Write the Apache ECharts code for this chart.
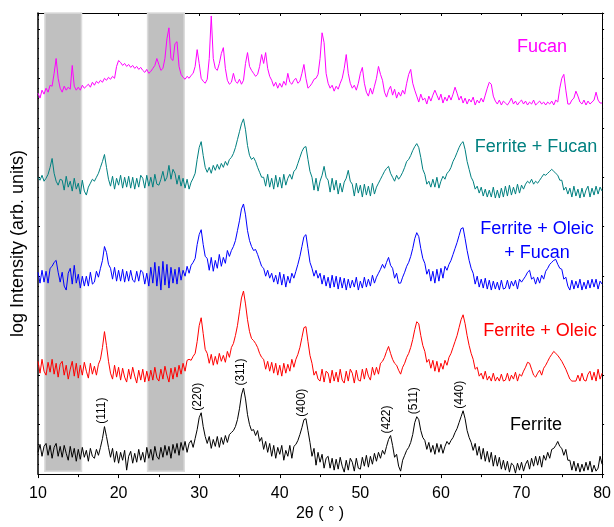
<!DOCTYPE html>
<html><head><meta charset="utf-8">
<script src="https://cdn.jsdelivr.net/npm/echarts@6/dist/echarts.min.js"></script>
<style>html,body{margin:0;padding:0;background:#fff}#c{width:614px;height:527px}</style>
</head><body><div id="c"></div>
<script>
// sampling grid: 2θ from 10 to 80 in 0.25° steps
const xStart = 10, xStep = 0.25;
const xTicks = [10, 20, 30, 40, 50, 60, 70, 80];
const bandStart = [10.85, 23.6];
const bandEnd = [15.4, 28.15];
const seriesNames = ['Fucan', 'Ferrite + Fucan', 'Ferrite + Oleic + Fucan', 'Ferrite + Oleic', 'Ferrite'];
const peakX = [18.25, 30.25, 35.5, 43.1, 53.7, 57.0, 62.75];
const peakLabels = ['(111)', '(220)', '(311)', '(400)', '(422)', '(511)', '(440)'];

// values are displayed (offset) log intensity, arbitrary units
const fucan = [
385,380,388,384, 390,386,393,392, 405,420,400,390, 386,392,388,391, 389,413,392,388,
391,388,393,390, 392,394,391,396, 393,397,395,398, 396,400,398,401, 399,402,400,412,
418,416,413,415, 412,414,411,413, 410,412,409,411, 408,406,409,405, 407,410,413,420,
414,408,410,420, 440,451,420,418, 435,437,412,404, 401,399,402,400, 403,405,412,429,
415,400,397,395, 399,420,463,420, 410,408,415,425, 431,410,398,394, 396,405,397,395,
399,394,398,415, 426,412,408,405, 402,404,412,424, 415,426,410,402, 398,392,396,390,
395,391,397,393, 405,396,394,398, 400,395,397,405, 414,400,390,392, 395,399,400,404,
420,446,436,405, 395,390,393,387, 392,389,395,400, 410,424,405,395, 390,393,388,395,
405,411,395,386, 382,390,384,392, 400,412,404,398, 386,381,388,392, 383,389,380,386,
382,388,384,395, 404,409,395,388, 382,376,384,378, 380,374,382,377, 383,388,383,378,
384,375,381,377, 383,378,384,391, 385,378,382,375, 380,374,379,376, 381,373,378,375,
380,376,383,390, 396,394,382,377, 374,378,373,377, 375,373,376,380, 374,377,373,376,
378,374,377,373, 376,374,378,373, 375,377,374,376, 373,376,374,377, 373,378,376,390,
400,404,388,374, 374,378,380,387, 382,376,374,378, 373,377,374,376, 378,386,378,375,
375];
const ferriteFucan = [
300,297,302,296, 299,303,310,319, 304,296,292,298, 297,287,301,290, 296,286,299,288,
294,283,297,286, 282,290,294,298, 296,300,304,310, 316,323,310,298, 291,301,288,299,
292,302,289,300, 290,301,289,300, 288,299,290,302, 299,289,302,291, 300,290,303,293,
292,298,306,296, 300,312,298,308, 304,293,302,291, 299,289,298,288, 295,299,304,318,
330,336,322,310, 305,310,304,312, 307,313,308,314, 310,316,312,318, 320,324,330,338,
346,354,359,348, 332,322,318,320, 316,310,305,300, 300,291,303,290, 299,288,302,290,
300,289,303,292, 299,303,298,306, 308,314,320,326, 330,331,318,306, 300,287,299,286,
296,302,311,300, 297,285,299,287, 297,283,294,285, 295,299,307,296, 293,281,294,284,
292,280,293,282, 291,281,294,283, 290,294,298,302, 306,309,311,304, 300,296,302,298,
301,305,310,316, 318,322,327,331, 334,330,320,308, 303,293,296,290, 298,290,300,289,
296,301,298,304, 306,310,316,320, 325,330,334,336, 328,316,308,300, 296,288,291,284,
290,281,288,280, 287,280,290,279, 287,279,289,280, 291,281,292,282, 290,283,293,284,
292,288,293,296, 294,298,293,296, 294,297,300,303, 302,304,306,308, 306,304,302,297,
297,287,290,283, 289,280,291,281, 288,279,289,280, 287,291,280,289, 282,291,283,290,
286];
const ferriteOleicFucan = [
204,193,206,194, 205,193,208,210, 214,216,204,194, 204,190,186,203, 208,192,211,193,
202,188,200,190, 200,190,204,192, 194,205,199,208, 216,230,224,212, 208,197,209,195,
206,195,207,194, 205,195,206,196, 194,205,195,206, 204,192,203,190, 209,193,214,190,
210,186,215,191, 212,188,209,193, 207,192,209,196, 206,200,210,203, 211,214,218,232,
242,247,232,220, 218,206,219,205, 216,208,222,210, 219,213,226,220, 226,230,236,246,
256,268,273,262, 246,236,230,226, 227,222,216,210, 208,200,206,198, 203,194,201,192,
204,191,202,189, 200,193,203,198, 205,212,220,230, 240,242,228,214, 208,200,206,198,
203,192,201,190, 199,188,201,189, 200,187,199,188, 198,186,197,188, 196,189,199,186,
195,188,199,189, 197,190,201,193, 199,203,207,212, 208,214,219,211, 208,198,203,193,
193,199,204,210, 214,220,228,238, 244,240,228,218, 213,202,207,195, 205,193,207,195,
208,198,210,206, 212,216,222,228, 234,241,248,249, 238,226,216,208, 203,192,200,189,
197,188,198,187, 196,186,195,187, 194,186,196,187, 188,196,187,195, 190,196,187,197,
194,197,200,204, 206,197,199,192, 199,193,201,197, 205,208,212,214, 216,217,212,208,
207,197,199,190, 186,196,187,195, 188,197,186,194, 187,196,188,197, 189,197,187,195,
192];
const ferriteOleic = [
114,102,116,104, 100,113,103,116, 101,112,98,111, 114,100,110,96, 106,114,99,112,
97,110,100,113, 104,97,112,101, 109,100,111,116, 128,144,130,114, 102,96,110,98,
108,95,107,98, 93,106,96,108, 99,92,105,95, 106,93,104,94, 105,95,108,97,
94,106,96,109, 100,93,107,96, 108,98,110,101, 112,104,115,116, 115,119,122,134,
150,158,142,126, 122,112,121,110, 119,111,122,114, 120,113,124,118, 128,132,140,150,
164,178,185,172, 156,144,137,135, 132,128,122,118, 116,106,114,104, 113,102,112,100,
110,99,112,102, 111,104,116,108, 116,121,128,138, 148,149,134,120, 112,100,104,96,
94,106,93,104, 102,92,105,94, 103,93,106,95, 92,104,94,106, 102,92,105,95,
94,106,96,107, 99,95,108,100, 108,101,112,114, 118,124,129,122, 116,112,110,105,
101,108,112,118, 122,128,136,146, 154,152,140,130, 124,113,116,107, 115,104,114,103,
112,106,115,110, 118,122,128,134, 140,148,156,161, 152,140,130,122, 116,106,108,99,
102,96,104,95, 99,94,102,94, 98,94,101,94, 95,102,94,100, 96,103,94,101,
99,104,108,113, 112,106,100,98, 102,105,100,107, 110,114,118,121, 124,122,120,117,
114,110,106,101, 96,94,94,94, 100,94,102,95, 94,101,104,95, 103,94,106,96,
102];
const ferrite = [
22,30,18,28, 31,19,29,16, 27,31,18,28, 17,29,21,14, 28,17,26,13,
25,15,27,17, 24,13,26,18, 16,25,19,27, 36,48,38,27, 17,26,12,23,
11,22,14,24, 4,18,23,11, 21,12,25,14, 22,12,27,16, 25,14,28,18,
15,27,17,29, 19,28,16,30, 21,31,19,32, 24,33,22,31, 34,27,36,45,
57,62,48,38, 31,38,26,35, 28,38,27,37, 30,39,32,40, 42,44,48,55,
66,80,87,76, 60,50,44,45, 39,44,33,37, 25,33,22,31, 18,29,16,27,
20,29,14,24, 18,29,16,28, 30,34,40,47, 55,56,44,32, 18,26,9,22,
12,20,6,16, 18,6,16,4, 15,5,17,8, 2,14,4,16, 12,3,16,6,
5,17,8,19, 7,18,10,21, 13,22,16,24, 20,28,35,39, 29,17,20,8,
3,14,19,24, 27,32,40,52, 58,55,44,37, 34,25,32,22, 29,20,31,22,
30,21,28,33, 30,34,37,42, 46,52,58,64, 56,44,37,32, 24,31,19,28,
15,26,13,23, 12,22,8,19, 8,17,5,14, 4,13,2,11, 9,1,11,4,
12,3,10,14, 5,16,8,18, 9,18,7,19, 14,22,16,25, 26,29,33,28,
26,19,25,14, 14,4,13,3, 11,2,10,3, 12,4,13,2, 9,3,6,18,
10];

const seriesValues = [fucan, ferriteFucan, ferriteOleicFucan, ferriteOleic, ferrite];
const seriesColors = ['#ff00ff', '#008080', '#0000ff', '#ff0000', '#000000'];

const FONT = '"Liberation Sans", Arial, Helvetica, sans-serif';
const pairs = vals => vals.map((v, i) => [xStart + i * xStep, v]);

const chart = echarts.init(document.getElementById('c'), null, {renderer: 'canvas'});

const series = seriesValues.map((vals, k) => ({
  name: seriesNames[k],
  type: 'line',
  data: pairs(vals),
  showSymbol: false,
  symbol: 'none',
  silent: true,
  z: 3,
  lineStyle: {color: seriesColors[k], width: 1},
  itemStyle: {color: seriesColors[k]}
}));
series.push({
  type: 'line', data: [[10, -10]], showSymbol: false, symbol: 'none', silent: true, z: 1,
  lineStyle: {width: 0},
  markArea: {
    silent: true,
    itemStyle: {color: '#c0c0c0', borderColor: '#dcdcdc', borderWidth: 1.5},
    data: bandStart.map((s, i) => [{xAxis: s, yAxis: 3}, {xAxis: bandEnd[i], yAxis: 466}])
  }
});

const axisLine = {show: true, onZero: false, lineStyle: {color: '#000', width: 1}};
chart.setOption({
  animation: false,
  backgroundColor: '#fff',
  grid: {left: 38, right: 11, top: 13, bottom: 48, containLabel: false},
  xAxis: [{
    type: 'value', min: 10, max: 80, interval: 10, position: 'bottom',
    name: '2θ ( ° )', nameLocation: 'middle', nameGap: 29,
    nameTextStyle: {fontFamily: FONT, fontSize: 16, color: '#000'},
    axisLine: axisLine,
    axisTick: {show: true, inside: false, length: 4, lineStyle: {color: '#000'}},
    minorTick: {show: true, splitNumber: 2, length: 3, lineStyle: {color: '#000'}},
    axisLabel: {fontFamily: FONT, fontSize: 16, color: '#000', margin: 11,
      formatter: v => xTicks.includes(v) ? String(v) : ''},
    splitLine: {show: false}
  }, {
    type: 'value', min: 10, max: 80, interval: 10, position: 'top',
    axisLine: axisLine,
    axisTick: {show: true, inside: true, length: 3, lineStyle: {color: '#000'}},
    minorTick: {show: true, splitNumber: 2, length: 2, lineStyle: {color: '#000'}},
    axisLabel: {show: false}, splitLine: {show: false}
  }],
  yAxis: [{
    type: 'value', min: 0, max: 466, interval: 50, position: 'left',
    name: 'log Intensity (arb. units)', nameLocation: 'middle', nameGap: 11, nameRotate: 90,
    nameTextStyle: {fontFamily: FONT, fontSize: 18, color: '#000'},
    axisLine: {show: true, onZero: false, lineStyle: {color: '#000', width: 1.5}},
    axisTick: {show: true, inside: true, length: 2, lineStyle: {color: '#000'}},
    minorTick: {show: true, splitNumber: 5, length: 1, lineStyle: {color: '#000'}},
    axisLabel: {show: false}, splitLine: {show: false}
  }, {
    type: 'value', min: 0, max: 466, interval: 50, position: 'right',
    axisLine: axisLine,
    axisTick: {show: true, inside: false, length: 2, lineStyle: {color: '#000'}},
    minorTick: {show: true, splitNumber: 5, length: 1, lineStyle: {color: '#000'}},
    axisLabel: {show: false}, splitLine: {show: false}
  }],
  series: series
});

// annotations: series names and Miller indices
const texts = [
  {t: 'Fucan', x: 542, y: 47, c: seriesColors[0]},
  {t: 'Ferrite + Fucan', x: 536, y: 147, c: seriesColors[1]},
  {t: 'Ferrite + Oleic\n+ Fucan', x: 537, y: 241, c: seriesColors[2]},
  {t: 'Ferrite + Oleic', x: 540, y: 331, c: seriesColors[3]},
  {t: 'Ferrite', x: 536, y: 425, c: seriesColors[4]}
];
const graphic = texts.map(o => ({
  type: 'text', x: o.x, y: o.y, silent: true, z: 10,
  style: {text: o.t, fill: o.c, font: '18px ' + FONT, align: 'center', verticalAlign: 'middle', lineHeight: 24}
}));
peakX.forEach((px, i) => {
  // local maximum of the ferrite pattern near the labelled reflection
  let best = -Infinity;
  ferrite.forEach((v, j) => { const xx = xStart + j * xStep; if (Math.abs(xx - px) <= 0.3 && v > best) best = v; });
  const p = chart.convertToPixel({xAxisIndex: 0, yAxisIndex: 0}, [px, best]);
  graphic.push({
    type: 'text', x: p[0] - 3, y: p[1] - 16, rotation: Math.PI / 2, silent: true, z: 10,
    style: {text: peakLabels[i], fill: '#000', font: '12px ' + FONT, align: 'center', verticalAlign: 'middle'}
  });
});
chart.setOption({graphic: graphic});
</script></body></html>
